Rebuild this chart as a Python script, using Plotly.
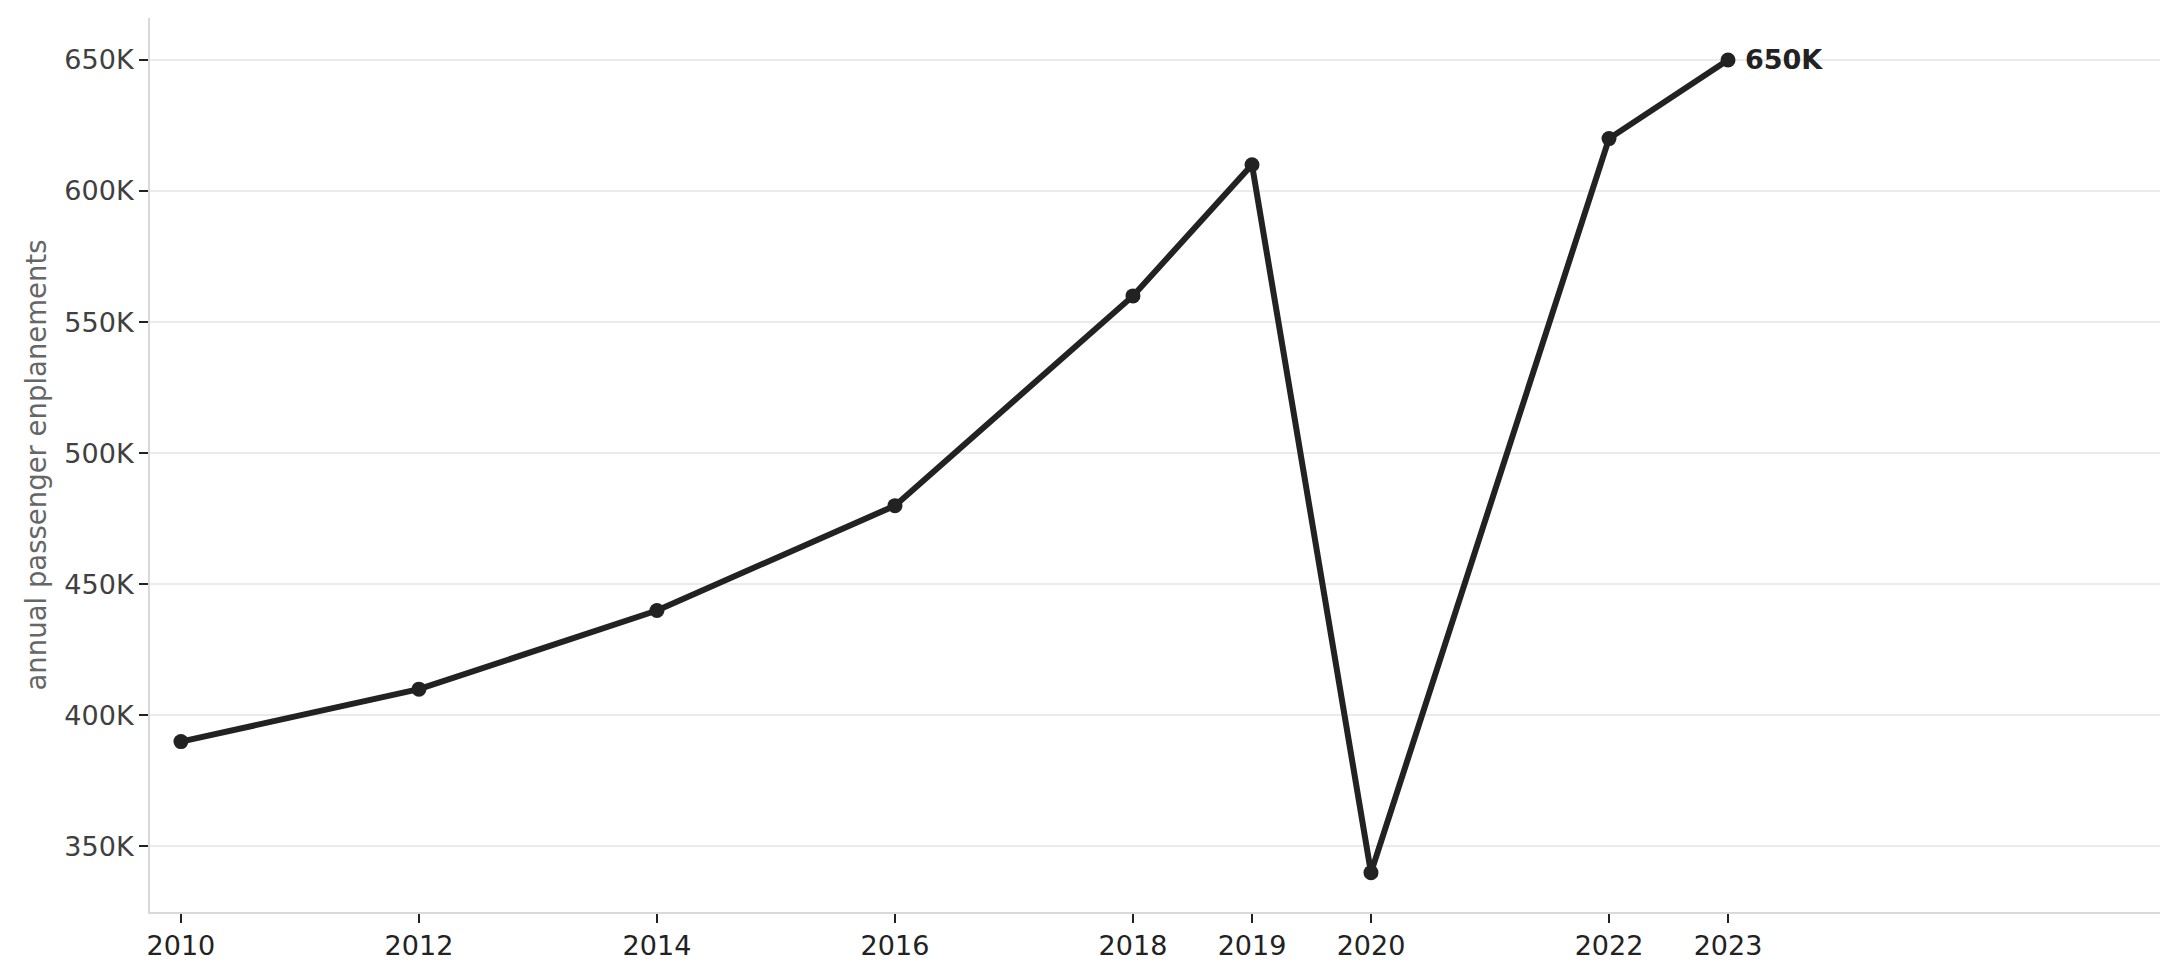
import plotly.graph_objects as go

years = [2010, 2012, 2014, 2016, 2018, 2019, 2020, 2022, 2023]
enplanements = [390000, 410000, 440000, 480000, 560000, 610000, 340000, 620000, 650000]
y_ticks = [350000, 400000, 450000, 500000, 550000, 600000, 650000]
y_tick_labels = ["350K", "400K", "450K", "500K", "550K", "600K", "650K"]
last_label = "650K"
y_title = "annual passenger enplanements"

fig = go.Figure()
fig.add_trace(go.Scatter(
    x=years, y=enplanements, mode="lines+markers",
    line=dict(color="#222222", width=6),
    marker=dict(color="#222222", size=15),
    showlegend=False, hoverinfo="skip",
))
fig.add_annotation(
    x=years[-1], y=enplanements[-1], text="<b>" + last_label + "</b>",
    showarrow=False, xanchor="left", yanchor="middle", xshift=15,
    font=dict(family="DejaVu Sans", size=27, color="#222222"),
)
fig.update_layout(
    width=2165, height=964,
    margin=dict(l=142, r=13, t=10, b=60),
    paper_bgcolor="white", plot_bgcolor="white",
    font=dict(family="DejaVu Sans", size=27, color="#404040"),
    xaxis=dict(
        range=[2009.74, 2026.63], tickmode="array", tickvals=years,
        ticktext=[str(y) for y in years],
        showgrid=False, zeroline=False,
        showline=True, linecolor="#d9d9d9", linewidth=2,
        ticks="outside", ticklen=9, tickwidth=2, tickcolor="#222222",
        tickfont=dict(color="#222222", size=27),
    ),
    yaxis=dict(
        range=[325000, 666000], tickmode="array", tickvals=y_ticks,
        ticktext=y_tick_labels,
        showgrid=True, gridcolor="#ebebeb", gridwidth=2, zeroline=False,
        showline=True, linecolor="#d9d9d9", linewidth=2,
        ticks="outside", ticklen=9, tickwidth=2, tickcolor="#222222",
        tickfont=dict(color="#404040", size=27),
        title=dict(text=y_title, font=dict(color="#666666", size=27.5), standoff=10),
    ),
)
fig.write_html("out.html")
